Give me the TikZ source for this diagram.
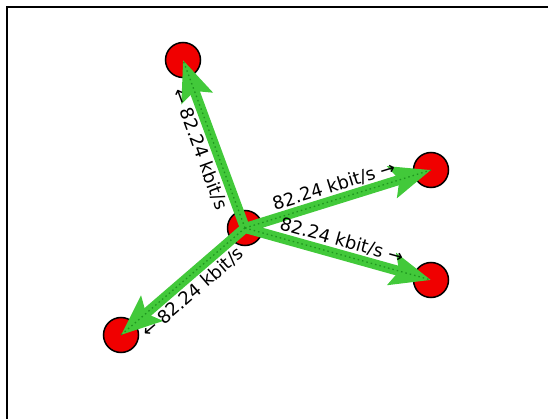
\documentclass[tikz,border=0pt]{standalone}
\usepackage{fontspec}
\setmainfont{DejaVu Sans}
\usetikzlibrary{arrows.meta}
\definecolor{flowgreen}{RGB}{66,201,58}
\definecolor{dotgreen}{RGB}{30,150,30}
\definecolor{hostred}{RGB}{240,0,0}

\begin{document}
\begin{tikzpicture}[x=1pt,y=-1pt]
        \tikzstyle{host}=[circle,draw=black,line width=1.5pt,fill=hostred,minimum size=35pt,inner sep=0pt]
        \tikzstyle{flow}=[draw=flowgreen,line width=10pt,-{Stealth[length=40pt,width=32pt,inset=7pt]}]
        \tikzstyle{flowdots}=[draw=dotgreen,line width=1.3pt,dash pattern=on 1.5pt off 3pt]
        \tikzstyle{rate}=[sloped,midway,font=\fontsize{18}{20}\selectfont,inner sep=1pt]

        \useasboundingbox (0,0) rectangle (548,419);
        \draw[line width=2pt] (7,419) -- (7,7) -- (548,7);

        \node[host]  (H0) at (245,228)   { }; % hub
        \node[host]  (H1) at (183,60)    { };
        \node[host]  (H2) at (431,170)   { };
        \node[host]  (H3) at (431,280)   { };
        \node[host]  (H4) at (121,335)   { };

        \path (H0.center) edge[flow] (H1.center)
              (H0.center) edge[flow] (H2.center)
              (H0.center) edge[flow] (H3.center)
              (H0.center) edge[flow] (H4.center);
        \path (H0.center) edge[flowdots] (H1.center)
              (H0.center) edge[flowdots] (H2.center)
              (H0.center) edge[flowdots] (H3.center)
              (H0.center) edge[flowdots] (H4.center);

        \path (H0) -- (H1) node[rate,below=6pt] {← 82.24 kbit/s}
              (H0) -- (H2) node[rate,above=5pt] {82.24 kbit/s →}
              (H0) -- (H3) node[rate,above=5pt] {82.24 kbit/s →}
              (H0) -- (H4) node[rate,below=6pt] {← 82.24 kbit/s};
\end{tikzpicture}
\end{document}
